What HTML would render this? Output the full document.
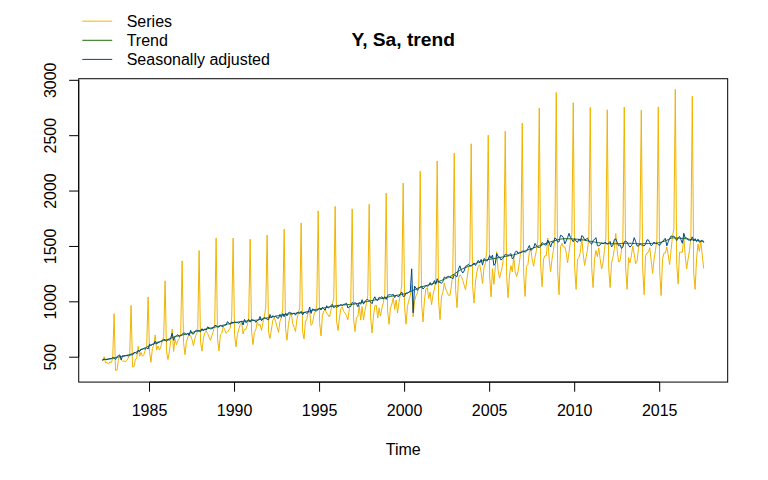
<!DOCTYPE html>
<html><head><meta charset="utf-8"><style>
html,body{margin:0;padding:0;background:#fff;width:768px;height:480px;overflow:hidden}
svg{display:block}
text{font-family:'Liberation Sans',Arial,Helvetica,sans-serif;font-size:16px;fill:#000}
</style></head><body>
<svg width="768" height="480" viewBox="0 0 768 480">
<rect x="0" y="0" width="768" height="480" fill="#fff"/>
<g fill="none" stroke-width="1" stroke-linejoin="round" stroke-linecap="round">
<polyline stroke="#F0B400" points="102.76,360.62 104.17,356.68 105.59,362.81 107.01,362.37 108.42,364.12 109.84,361.93 111.26,362.55 112.68,358.87 114.09,313.78 115.51,370.24 116.93,370.42 118.34,360.62 119.76,355.37 121.18,359.75 122.60,361.06 124.01,361.06 125.43,361.67 126.85,360.18 128.26,358.00 129.68,354.50 131.10,305.48 132.52,366.75 133.93,366.57 135.35,359.75 136.77,358.00 138.19,346.19 139.60,356.25 141.02,352.31 142.44,356.25 143.85,354.50 145.27,350.12 146.69,346.62 148.11,296.95 149.52,351.46 150.94,362.29 152.36,348.75 153.77,344.69 155.19,334.94 156.61,350.10 158.03,346.04 159.44,350.10 160.86,346.72 162.28,340.62 163.69,336.56 165.11,280.78 166.53,351.46 167.95,359.58 169.36,351.46 170.78,340.62 172.20,329.11 173.62,351.46 175.03,339.27 176.45,344.69 177.87,340.62 179.28,338.59 180.70,333.85 182.12,260.95 183.54,342.39 184.95,354.58 186.37,342.39 187.79,336.98 189.20,334.95 190.62,335.62 192.04,339.69 193.46,345.78 194.87,338.33 196.29,334.27 197.71,331.56 199.12,250.54 200.54,342.39 201.96,351.19 203.38,338.33 204.79,332.91 206.21,330.88 207.63,333.59 209.04,336.98 210.46,340.36 211.88,335.62 213.30,331.56 214.71,324.79 216.13,238.13 217.55,338.75 218.97,350.93 220.38,334.69 221.80,333.33 223.22,326.56 224.63,329.27 226.05,333.33 227.47,331.98 228.89,329.95 230.30,327.91 231.72,317.08 233.14,238.13 234.55,334.69 235.97,346.87 237.39,334.69 238.81,329.27 240.22,324.53 241.64,322.50 243.06,334.01 244.47,329.27 245.89,329.27 247.31,325.21 248.73,317.08 250.14,239.13 251.56,331.04 252.98,344.58 254.39,332.39 255.81,329.69 257.23,322.24 258.65,325.62 260.06,324.27 261.48,330.36 262.90,322.91 264.32,316.14 265.73,308.02 267.15,235.03 268.57,332.39 269.98,338.49 271.40,329.69 272.82,320.21 274.24,317.50 275.65,321.56 277.07,326.98 278.49,332.39 279.90,321.56 281.32,317.50 282.74,309.37 284.16,229.16 285.57,328.75 286.99,340.26 288.41,324.69 289.82,316.56 291.24,312.50 292.66,323.33 294.08,327.39 295.49,331.46 296.91,319.27 298.33,313.85 299.75,307.08 301.16,222.96 302.58,331.46 304.00,338.90 305.41,321.98 306.83,319.27 308.25,311.14 309.67,311.82 311.08,325.36 312.50,323.33 313.92,315.21 315.33,311.14 316.75,305.73 318.17,210.89 319.59,322.39 321.00,335.93 322.42,315.62 323.84,310.88 325.25,309.53 326.67,312.91 328.09,314.95 329.51,316.98 330.92,310.21 332.34,304.79 333.76,298.02 335.17,206.46 336.59,321.04 338.01,330.52 339.43,318.33 340.84,308.85 342.26,306.82 343.68,311.56 345.10,312.91 346.51,315.62 347.93,319.69 349.35,308.85 350.76,302.08 352.18,208.89 353.60,318.75 355.02,331.61 356.43,317.39 357.85,316.72 359.27,305.21 360.68,320.10 362.10,306.56 363.52,320.10 364.94,310.62 366.35,303.85 367.77,295.73 369.19,204.24 370.60,317.39 372.02,332.97 373.44,316.04 374.86,305.88 376.27,305.21 377.69,318.07 379.11,307.91 380.52,316.04 381.94,307.91 383.36,302.50 384.78,294.37 386.19,193.28 387.61,310.75 389.03,324.29 390.45,308.04 391.86,303.98 393.28,297.88 394.70,309.39 396.11,299.91 397.53,312.78 398.95,302.62 400.37,294.50 401.78,285.02 403.20,183.09 404.62,306.69 406.03,324.29 407.45,306.69 408.87,299.91 410.29,295.85 411.70,285.41 413.12,316.84 414.54,301.27 415.95,295.85 417.37,293.14 418.79,285.02 420.21,171.12 421.62,303.12 423.04,321.88 424.46,300.00 425.88,289.06 427.29,287.50 428.71,298.44 430.13,292.19 431.54,304.69 432.96,295.31 434.38,289.06 435.80,279.69 437.21,160.93 438.63,301.56 440.05,319.53 441.46,296.88 442.88,292.19 444.30,282.81 445.72,289.06 447.13,292.19 448.55,295.31 449.97,295.31 451.38,285.94 452.80,273.44 454.22,153.07 455.64,289.69 457.05,307.66 458.47,278.75 459.89,274.84 461.30,276.41 462.72,280.31 464.14,285.00 465.56,289.69 466.97,278.75 468.39,269.38 469.81,261.56 471.23,143.77 472.64,286.56 474.06,302.97 475.48,281.88 476.89,271.72 478.31,266.25 479.73,264.69 481.15,272.50 482.56,283.44 483.98,267.81 485.40,263.12 486.81,250.62 488.23,135.24 489.65,276.56 491.07,296.88 492.48,268.75 493.90,284.38 495.32,267.19 496.73,251.56 498.15,270.31 499.57,278.12 500.99,271.88 502.40,266.41 503.82,253.12 505.24,131.25 506.65,276.56 508.07,297.66 509.49,275.00 510.91,265.62 512.32,271.88 513.74,256.25 515.16,271.88 516.58,276.56 517.99,271.88 519.41,262.50 520.83,250.00 522.24,123.05 523.66,273.44 525.08,296.46 526.50,266.35 527.91,264.58 529.33,252.19 530.75,248.65 532.16,259.27 533.58,266.35 535.00,257.50 536.42,250.42 537.83,239.79 539.25,108.10 540.67,266.35 542.08,286.72 543.50,259.27 544.92,255.73 546.34,255.73 547.75,238.02 549.17,259.27 550.59,271.67 552.01,259.27 553.42,250.42 554.84,238.02 556.26,92.48 557.67,271.67 559.09,294.69 560.51,246.88 561.93,243.33 563.34,246.88 564.76,246.88 566.18,252.19 567.59,262.81 569.01,252.19 570.43,241.56 571.85,234.48 573.26,102.78 574.68,268.13 576.10,289.38 577.51,259.27 578.93,257.50 580.35,252.19 581.77,238.02 583.18,253.96 584.60,265.47 586.02,257.50 587.43,250.42 588.85,236.25 590.27,107.33 591.69,268.13 593.10,287.60 594.52,259.27 595.94,250.42 597.36,256.62 598.77,247.76 600.19,259.27 601.61,269.01 603.02,262.81 604.44,250.42 605.86,238.02 607.28,109.76 608.69,268.13 610.11,287.60 611.53,262.81 612.94,257.50 614.36,248.65 615.78,233.59 617.20,250.42 618.61,261.93 620.03,261.04 621.45,250.42 622.86,239.79 624.28,107.21 625.70,268.13 627.12,289.38 628.53,257.50 629.95,262.81 631.37,255.73 632.78,245.99 634.20,253.96 635.62,263.70 637.04,261.04 638.45,248.65 639.87,238.02 641.29,110.21 642.71,268.13 644.12,294.69 645.54,255.73 646.96,253.07 648.37,252.19 649.79,247.76 651.21,261.04 652.63,273.44 654.04,259.27 655.46,250.42 656.88,239.79 658.29,106.88 659.71,271.67 661.13,295.57 662.55,259.27 663.96,253.07 665.38,253.07 666.80,246.88 668.21,254.84 669.63,264.58 671.05,250.42 672.47,236.25 673.88,229.17 675.30,89.38 676.72,264.58 678.14,284.06 679.55,252.19 680.97,252.19 682.39,252.08 683.80,236.51 685.22,255.73 686.64,269.01 688.06,259.27 689.47,250.42 690.89,238.02 692.31,96.25 693.72,273.44 695.14,289.32 696.56,258.85 697.98,243.96 699.39,251.40 700.81,241.25 702.23,254.79 703.64,268.15"/>
<polyline stroke="#1E6C0B" points="102.76,359.86 104.17,359.64 105.59,359.42 107.01,359.19 108.42,358.95 109.84,358.71 111.26,358.45 112.68,358.19 114.09,357.92 115.51,357.64 116.93,357.36 118.34,357.09 119.76,356.80 121.18,356.52 122.60,356.22 124.01,355.92 125.43,355.60 126.85,355.26 128.26,354.90 129.68,354.51 131.10,354.10 132.52,353.66 133.93,353.13 135.35,352.50 136.77,351.80 138.19,351.07 139.60,350.35 141.02,349.67 142.44,349.03 143.85,348.40 145.27,347.77 146.69,347.15 148.11,346.53 149.52,345.90 150.94,345.25 152.36,344.58 153.77,343.91 155.19,343.26 156.61,342.66 158.03,342.14 159.44,341.69 160.86,341.30 162.28,340.95 163.69,340.59 165.11,340.22 166.53,339.81 167.95,339.33 169.36,338.79 170.78,338.23 172.20,337.68 173.62,337.16 175.03,336.71 176.45,336.33 177.87,335.99 179.28,335.67 180.70,335.36 182.12,335.05 183.54,334.72 184.95,334.36 186.37,334.00 187.79,333.63 189.20,333.25 190.62,332.87 192.04,332.49 193.46,332.11 194.87,331.73 196.29,331.35 197.71,330.99 199.12,330.63 200.54,330.29 201.96,329.95 203.38,329.62 204.79,329.30 206.21,328.99 207.63,328.68 209.04,328.37 210.46,328.07 211.88,327.76 213.30,327.45 214.71,327.15 216.13,326.84 217.55,326.52 218.97,326.19 220.38,325.86 221.80,325.52 223.22,325.17 224.63,324.82 226.05,324.47 227.47,324.13 228.89,323.80 230.30,323.49 231.72,323.18 233.14,322.90 234.55,322.64 235.97,322.39 237.39,322.15 238.81,321.91 240.22,321.69 241.64,321.48 243.06,321.30 244.47,321.16 245.89,321.05 247.31,320.97 248.73,320.91 250.14,320.85 251.56,320.76 252.98,320.63 254.39,320.46 255.81,320.25 257.23,320.00 258.65,319.74 260.06,319.45 261.48,319.15 262.90,318.84 264.32,318.53 265.73,318.23 267.15,317.94 268.57,317.66 269.98,317.38 271.40,317.09 272.82,316.80 274.24,316.49 275.65,316.19 277.07,315.89 278.49,315.59 279.90,315.30 281.32,315.03 282.74,314.78 284.16,314.54 285.57,314.34 286.99,314.15 288.41,313.99 289.82,313.85 291.24,313.71 292.66,313.59 294.08,313.46 295.49,313.34 296.91,313.21 298.33,313.07 299.75,312.92 301.16,312.75 302.58,312.56 304.00,312.34 305.41,312.08 306.83,311.79 308.25,311.48 309.67,311.14 311.08,310.79 312.50,310.44 313.92,310.09 315.33,309.74 316.75,309.41 318.17,309.09 319.59,308.80 321.00,308.52 322.42,308.24 323.84,307.95 325.25,307.67 326.67,307.39 328.09,307.11 329.51,306.84 330.92,306.58 332.34,306.33 333.76,306.10 335.17,305.88 336.59,305.67 338.01,305.48 339.43,305.31 340.84,305.17 342.26,305.05 343.68,304.94 345.10,304.85 346.51,304.76 347.93,304.67 349.35,304.58 350.76,304.46 352.18,304.33 353.60,304.18 355.02,303.97 356.43,303.73 357.85,303.46 359.27,303.17 360.68,302.86 362.10,302.55 363.52,302.23 364.94,301.93 366.35,301.64 367.77,301.36 369.19,301.08 370.60,300.80 372.02,300.51 373.44,300.23 374.86,299.94 376.27,299.64 377.69,299.35 379.11,299.05 380.52,298.74 381.94,298.43 383.36,298.11 384.78,297.79 386.19,297.46 387.61,297.14 389.03,296.82 390.45,296.51 391.86,296.21 393.28,295.92 394.70,295.66 396.11,295.41 397.53,295.17 398.95,294.92 400.37,294.67 401.78,294.39 403.20,294.09 404.62,293.76 406.03,293.36 407.45,292.88 408.87,292.33 410.29,291.71 411.70,291.06 413.12,290.38 414.54,289.71 415.95,289.04 417.37,288.41 418.79,287.83 420.21,287.33 421.62,286.87 423.04,286.45 424.46,286.05 425.88,285.65 427.29,285.26 428.71,284.86 430.13,284.43 431.54,283.97 432.96,283.51 434.38,283.03 435.80,282.54 437.21,282.04 438.63,281.52 440.05,280.98 441.46,280.41 442.88,279.83 444.30,279.23 445.72,278.60 447.13,277.95 448.55,277.27 449.97,276.56 451.38,275.81 452.80,274.98 454.22,274.05 455.64,273.06 457.05,272.06 458.47,271.09 459.89,270.18 461.30,269.38 462.72,268.69 464.14,268.08 465.56,267.51 466.97,266.97 468.39,266.45 469.81,265.94 471.23,265.40 472.64,264.84 474.06,264.23 475.48,263.60 476.89,262.96 478.31,262.34 479.73,261.77 481.15,261.25 482.56,260.82 483.98,260.46 485.40,260.14 486.81,259.85 488.23,259.58 489.65,259.33 491.07,259.07 492.48,258.81 493.90,258.54 495.32,258.28 496.73,258.02 498.15,257.77 499.57,257.51 500.99,257.26 502.40,256.99 503.82,256.73 505.24,256.48 506.65,256.23 508.07,255.97 509.49,255.71 510.91,255.44 512.32,255.15 513.74,254.83 515.16,254.48 516.58,254.08 517.99,253.63 519.41,253.13 520.83,252.59 522.24,252.04 523.66,251.48 525.08,250.92 526.50,250.38 527.91,249.86 529.33,249.35 530.75,248.84 532.16,248.33 533.58,247.83 535.00,247.32 536.42,246.81 537.83,246.31 539.25,245.81 540.67,245.31 542.08,244.80 543.50,244.27 544.92,243.75 546.34,243.23 547.75,242.72 549.17,242.24 550.59,241.79 552.01,241.38 553.42,241.01 554.84,240.62 556.26,240.23 557.67,239.84 559.09,239.49 560.51,239.18 561.93,238.93 563.34,238.76 564.76,238.69 566.18,238.69 567.59,238.72 569.01,238.76 570.43,238.82 571.85,238.88 573.26,238.96 574.68,239.05 576.10,239.14 577.51,239.24 578.93,239.36 580.35,239.53 581.77,239.75 583.18,239.99 584.60,240.25 586.02,240.52 587.43,240.79 588.85,241.04 590.27,241.28 591.69,241.52 593.10,241.78 594.52,242.05 595.94,242.31 597.36,242.56 598.77,242.79 600.19,242.99 601.61,243.15 603.02,243.26 604.44,243.36 605.86,243.45 607.28,243.53 608.69,243.61 610.11,243.67 611.53,243.73 612.94,243.76 614.36,243.78 615.78,243.78 617.20,243.74 618.61,243.67 620.03,243.59 621.45,243.49 622.86,243.40 624.28,243.32 625.70,243.26 627.12,243.23 628.53,243.24 629.95,243.28 631.37,243.35 632.78,243.44 634.20,243.53 635.62,243.62 637.04,243.70 638.45,243.76 639.87,243.78 641.29,243.78 642.71,243.76 644.12,243.73 645.54,243.69 646.96,243.64 648.37,243.58 649.79,243.51 651.21,243.43 652.63,243.34 654.04,243.24 655.46,243.13 656.88,243.02 658.29,242.84 659.71,242.55 661.13,242.17 662.55,241.72 663.96,241.24 665.38,240.74 666.80,240.25 668.21,239.57 669.63,238.80 671.05,238.17 672.47,237.91 673.88,237.93 675.30,237.97 676.72,238.03 678.14,238.11 679.55,238.21 680.97,238.32 682.39,238.43 683.80,238.56 685.22,238.69 686.64,238.85 688.06,239.06 689.47,239.30 690.89,239.55 692.31,239.79 693.72,240.02 695.14,240.22 696.56,240.41 697.98,240.60 699.39,240.79 700.81,240.97 702.23,241.14 703.64,241.31"/>
<polyline stroke="#00488C" points="102.76,359.99 104.17,359.12 105.59,359.39 107.01,359.78 108.42,359.08 109.84,358.83 111.26,358.91 112.68,357.61 114.09,358.04 115.51,359.46 116.93,356.60 118.34,355.74 119.76,354.89 121.18,359.83 122.60,355.79 124.01,356.05 125.43,355.78 126.85,355.63 128.26,355.93 129.68,355.39 131.10,354.67 132.52,355.09 133.93,352.68 135.35,352.63 136.77,353.62 138.19,350.34 139.60,351.59 141.02,349.25 142.44,349.16 143.85,348.70 145.27,349.01 146.69,347.76 148.11,349.10 149.52,344.10 150.94,345.38 152.36,344.26 153.77,344.19 155.19,341.13 156.61,344.00 158.03,342.69 159.44,342.25 160.86,341.45 162.28,340.71 163.69,339.21 165.11,339.75 166.53,341.51 167.95,339.45 169.36,340.38 170.78,337.84 172.20,333.19 173.62,340.32 175.03,336.55 176.45,335.66 177.87,334.67 179.28,336.81 180.70,335.49 182.12,334.65 183.54,332.96 184.95,333.07 186.37,334.72 187.79,333.49 189.20,335.48 190.62,330.32 192.04,333.73 193.46,334.08 194.87,331.89 196.29,329.97 197.71,330.92 199.12,330.95 200.54,331.88 201.96,328.66 203.38,331.03 204.79,329.03 206.21,330.15 207.63,326.86 209.04,327.91 210.46,328.85 211.88,328.67 213.30,327.95 214.71,325.73 216.13,325.32 217.55,327.10 218.97,327.03 220.38,325.04 221.80,326.50 223.22,326.38 224.63,324.94 226.05,325.07 227.47,321.61 228.89,323.19 230.30,324.52 231.72,321.83 233.14,323.06 234.55,321.34 235.97,322.73 237.39,322.42 238.81,323.37 240.22,321.79 241.64,321.19 243.06,325.06 244.47,319.37 245.89,322.69 247.31,321.48 248.73,319.37 250.14,322.10 251.56,319.40 252.98,320.15 254.39,320.02 255.81,322.34 257.23,320.68 258.65,319.87 260.06,316.48 261.48,320.77 262.90,318.87 264.32,317.37 265.73,318.27 267.15,319.21 268.57,320.00 269.98,314.56 271.40,317.88 272.82,315.64 274.24,317.18 275.65,316.15 277.07,317.94 278.49,318.34 279.90,314.53 281.32,317.37 282.74,313.60 284.16,316.81 285.57,313.24 286.99,315.92 288.41,312.78 289.82,312.09 291.24,313.69 292.66,314.03 294.08,312.94 295.49,315.19 296.91,312.57 298.33,312.21 299.75,313.19 301.16,311.26 302.58,314.92 304.00,312.65 305.41,312.44 306.83,313.37 308.25,312.41 309.67,307.01 311.08,313.42 312.50,308.97 313.92,309.59 315.33,310.77 316.75,311.01 318.17,309.07 319.59,308.20 321.00,310.06 322.42,307.31 323.84,309.04 325.25,309.99 326.67,305.74 328.09,308.04 329.51,307.22 330.92,305.48 332.34,304.42 333.76,307.76 335.17,306.43 336.59,307.27 338.01,306.50 339.43,305.89 340.84,304.38 342.26,305.85 343.68,304.19 345.10,304.16 346.51,303.19 347.93,308.06 349.35,306.51 350.76,306.57 352.18,302.41 353.60,303.55 355.02,302.66 356.43,303.45 357.85,306.80 359.27,302.62 360.68,304.25 362.10,299.70 363.52,304.14 364.94,301.32 366.35,299.97 367.77,299.36 369.19,300.89 370.60,301.89 372.02,303.66 373.44,299.22 374.86,296.81 376.27,299.97 377.69,300.60 379.11,297.26 380.52,297.75 381.94,296.65 383.36,299.22 384.78,296.66 386.19,299.42 387.61,295.57 389.03,294.66 390.45,294.82 391.86,295.14 393.28,294.35 394.70,297.58 396.11,295.10 397.53,296.23 398.95,296.50 400.37,294.13 401.78,292.01 403.20,296.55 404.62,296.16 406.03,293.04 407.45,293.36 408.87,291.87 410.29,291.38 411.70,268.81 413.12,312.79 414.54,286.06 415.95,288.07 417.37,290.42 418.79,288.46 420.21,286.82 421.62,286.35 423.04,289.07 424.46,287.36 425.88,285.63 427.29,286.10 428.71,285.65 430.13,282.58 431.54,285.22 432.96,283.55 434.38,280.64 435.80,284.25 437.21,278.75 438.63,282.25 440.05,282.30 441.46,283.33 442.88,281.52 444.30,276.98 445.72,277.88 447.13,276.88 448.55,276.13 449.97,277.61 451.38,277.41 452.80,278.92 454.22,274.84 455.64,275.76 457.05,276.77 458.47,269.22 459.89,265.81 461.30,270.39 462.72,273.02 464.14,270.98 465.56,266.25 466.97,265.63 468.39,264.30 469.81,265.91 471.23,265.99 472.64,264.81 474.06,262.92 475.48,265.51 476.89,263.22 478.31,260.32 479.73,262.93 481.15,259.45 482.56,265.10 483.98,258.54 485.40,259.65 486.81,261.19 488.23,259.17 489.65,255.62 491.07,258.24 492.48,255.09 493.90,265.35 495.32,263.46 496.73,253.53 498.15,256.47 499.57,257.05 500.99,260.06 502.40,258.72 503.82,257.24 505.24,254.31 506.65,254.93 508.07,255.20 509.49,254.84 510.91,253.52 512.32,258.88 513.74,257.16 515.16,252.36 516.58,250.84 517.99,253.40 519.41,252.39 520.83,252.47 522.24,251.21 523.66,250.92 525.08,252.39 526.50,250.93 527.91,248.38 529.33,245.47 530.75,250.40 532.16,249.23 533.58,248.10 535.00,243.41 536.42,245.89 537.83,247.15 539.25,247.56 540.67,246.58 542.08,242.46 543.50,243.73 544.92,245.01 546.34,244.91 547.75,239.98 549.17,242.57 550.59,247.07 552.01,242.64 553.42,242.62 554.84,238.06 556.26,238.84 557.67,242.06 559.09,241.73 560.51,235.26 561.93,235.88 563.34,237.41 564.76,243.85 566.18,240.96 567.59,237.62 569.01,233.26 570.43,237.46 571.85,239.44 573.26,241.80 574.68,238.61 576.10,241.19 577.51,242.36 578.93,239.02 580.35,241.35 581.77,235.66 583.18,236.52 584.60,239.96 586.02,239.31 587.43,238.16 588.85,241.07 590.27,243.03 591.69,244.15 593.10,240.45 594.52,239.63 595.94,237.62 597.36,245.61 598.77,245.84 600.19,244.85 601.61,242.68 603.02,244.03 604.44,242.59 605.86,242.56 607.28,244.37 608.69,242.91 610.11,241.44 611.53,246.97 612.94,245.11 614.36,239.51 615.78,238.91 617.20,242.30 618.61,245.74 620.03,244.71 621.45,248.37 622.86,247.13 624.28,241.62 625.70,241.18 627.12,242.14 628.53,245.14 629.95,247.15 631.37,245.73 632.78,243.08 634.20,237.67 635.62,241.24 637.04,245.87 638.45,246.11 639.87,243.60 641.29,244.91 642.71,245.20 644.12,246.08 645.54,244.19 646.96,239.92 648.37,239.92 649.79,242.68 651.21,245.78 652.63,244.40 654.04,242.01 655.46,243.65 656.88,243.07 658.29,244.74 659.71,245.31 661.13,242.79 662.55,241.94 663.96,239.53 665.38,238.47 666.80,245.84 668.21,241.83 669.63,238.61 671.05,236.00 672.47,236.47 673.88,236.10 675.30,238.25 676.72,240.54 678.14,237.72 679.55,236.51 680.97,239.74 682.39,243.25 683.80,233.27 685.22,238.05 686.64,237.84 688.06,239.90 689.47,240.16 690.89,240.57 692.31,236.88 693.72,240.99 695.14,238.72 696.56,241.61 697.98,239.13 699.39,242.24 700.81,241.38 702.23,240.30 703.64,242.41"/>
</g>
<rect x="78.72" y="78.72" width="648.96" height="303.36" fill="none" stroke="#000" stroke-width="1"/>
<g stroke="#000" stroke-width="1">
<line x1="149.52" y1="382.08" x2="659.71" y2="382.08"/><line x1="149.52" y1="382.08" x2="149.52" y2="391.68"/><line x1="234.55" y1="382.08" x2="234.55" y2="391.68"/><line x1="319.59" y1="382.08" x2="319.59" y2="391.68"/><line x1="404.62" y1="382.08" x2="404.62" y2="391.68"/><line x1="489.65" y1="382.08" x2="489.65" y2="391.68"/><line x1="574.68" y1="382.08" x2="574.68" y2="391.68"/><line x1="659.71" y1="382.08" x2="659.71" y2="391.68"/>
<line x1="78.72" y1="357.20" x2="78.72" y2="80.30"/><line x1="78.72" y1="357.20" x2="69.12" y2="357.20"/><line x1="78.72" y1="301.82" x2="69.12" y2="301.82"/><line x1="78.72" y1="246.44" x2="69.12" y2="246.44"/><line x1="78.72" y1="191.06" x2="69.12" y2="191.06"/><line x1="78.72" y1="135.68" x2="69.12" y2="135.68"/><line x1="78.72" y1="80.30" x2="69.12" y2="80.30"/>
</g>
<g text-anchor="middle"><text x="149.52" y="416">1985</text><text x="234.55" y="416">1990</text><text x="319.59" y="416">1995</text><text x="404.62" y="416">2000</text><text x="489.65" y="416">2005</text><text x="574.68" y="416">2010</text><text x="659.71" y="416">2015</text><text transform="translate(55.8,357.20) rotate(-90)">500</text><text transform="translate(55.8,301.82) rotate(-90)">1000</text><text transform="translate(55.8,246.44) rotate(-90)">1500</text><text transform="translate(55.8,191.06) rotate(-90)">2000</text><text transform="translate(55.8,135.68) rotate(-90)">2500</text><text transform="translate(55.8,80.30) rotate(-90)">3000</text>
<text x="403.2" y="454.8">Time</text>
<text x="403.2" y="46.2" style="font-weight:bold;font-size:19.2px">Y, Sa, trend</text>
</g>
<g stroke-width="1">
<line x1="82.3" y1="21.15" x2="112.2" y2="21.15" stroke="#F0B400"/>
<line x1="82.3" y1="40.3" x2="112.2" y2="40.3" stroke="#1E6C0B"/>
<line x1="82.3" y1="59.4" x2="112.2" y2="59.4" stroke="#00488C"/>
</g>
<text x="126.7" y="26.75">Series</text>
<text x="126.7" y="45.9">Trend</text>
<text x="126.7" y="64.7">Seasonally adjusted</text>
</svg>
</body></html>
